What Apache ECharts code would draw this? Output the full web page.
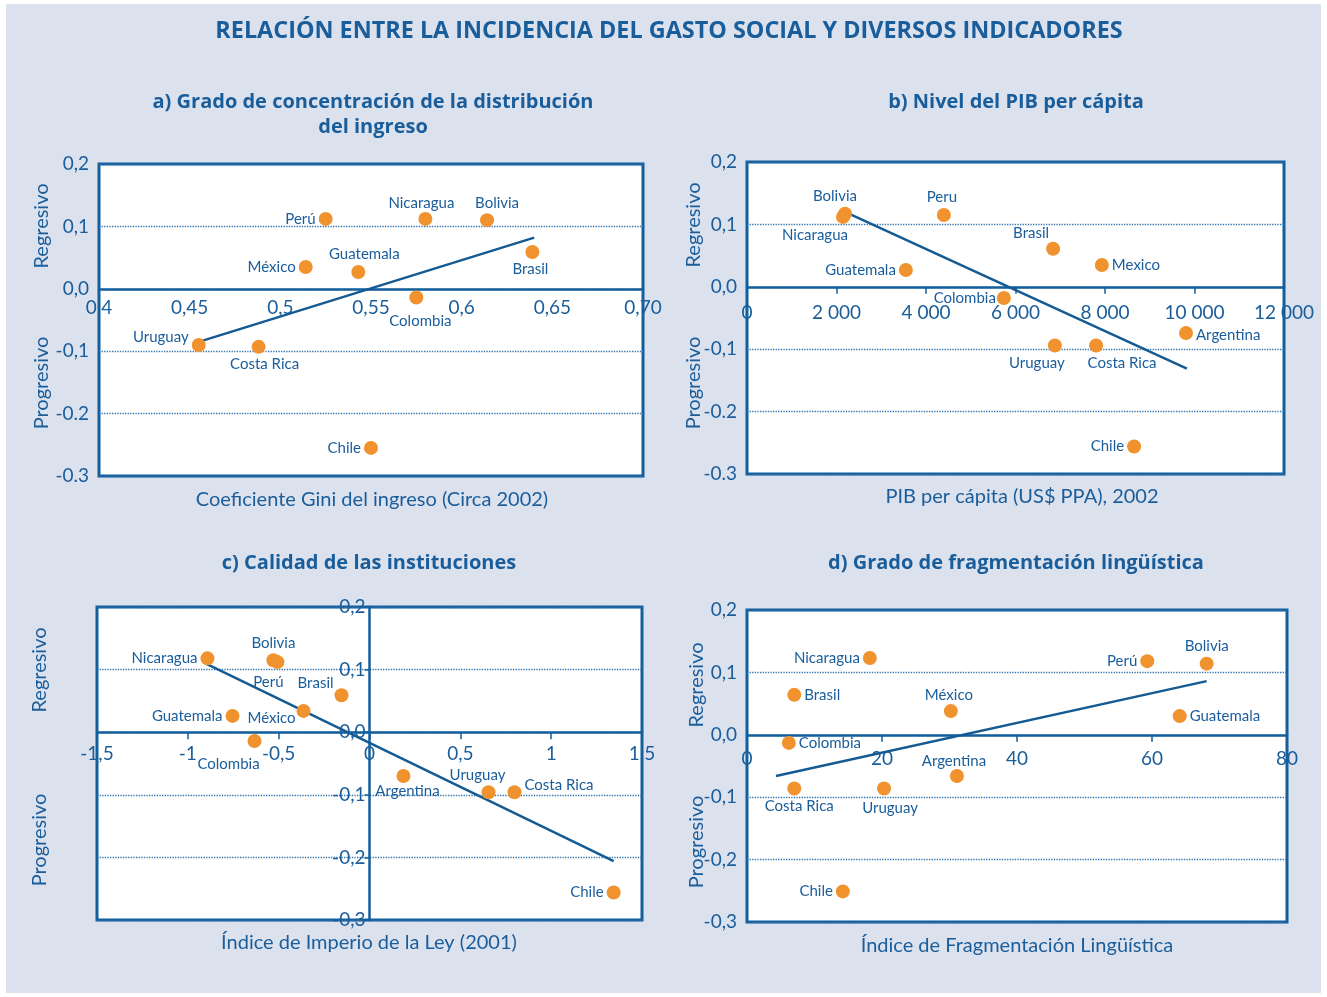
<!DOCTYPE html>
<html>
<head>
<meta charset="utf-8">
<script src="https://cdn.jsdelivr.net/npm/echarts@6/dist/echarts.min.js"></script>
<style>
  html, body { margin: 0; padding: 0; background: #ffffff; }
  #wrap { position: relative; width: 1327px; height: 997px; }
  #panel { position: absolute; left: 6px; top: 4px; width: 1315px; height: 989px; background: #dce1ee; }
  #chart { position: absolute; left: 0; top: 0; width: 1327px; height: 997px; }
</style>
</head>
<body>
<div id="wrap"><div id="panel"></div><div id="chart"></div></div>
<script>
// a) Gini coefficient vs. incidence of social spending
const countriesA = ['Perú', 'Nicaragua', 'Bolivia', 'Brasil', 'México', 'Guatemala', 'Colombia', 'Uruguay', 'Costa Rica', 'Chile'];
const giniA = [0.525, 0.580, 0.614, 0.639, 0.514, 0.543, 0.575, 0.455, 0.488, 0.550];
const incidA = [0.112, 0.112, 0.110, 0.059, 0.035, 0.027, -0.014, -0.090, -0.093, -0.255];
const trendAx = [0.455, 0.640];
const trendAy = [-0.085, 0.082];

// b) GDP per capita (PPP US$, 2002)
const countriesB = ['Bolivia', 'Nicaragua', 'Peru', 'Guatemala', 'Brasil', 'Mexico', 'Colombia', 'Uruguay', 'Costa Rica', 'Argentina', 'Chile'];
const pibB = [2190, 2145, 4400, 3550, 6840, 7930, 5740, 6880, 7800, 9810, 8650];
const incidB = [0.117, 0.112, 0.115, 0.027, 0.061, 0.035, -0.018, -0.094, -0.094, -0.074, -0.256];
const trendBx = [2190, 9830];
const trendBy = [0.120, -0.131];

// c) Rule of law index (2001)
const countriesC = ['Nicaragua', 'Bolivia', 'Perú', 'Brasil', 'México', 'Guatemala', 'Colombia', 'Argentina', 'Uruguay', 'Costa Rica', 'Chile'];
const leyC = [-0.892, -0.529, -0.507, -0.154, -0.363, -0.754, -0.633, 0.187, 0.655, 0.798, 1.344];
const incidC = [0.118, 0.115, 0.112, 0.059, 0.034, 0.026, -0.014, -0.070, -0.096, -0.096, -0.256];
const trendCx = [-0.903, 1.344];
const trendCy = [0.110, -0.206];

// d) Linguistic fragmentation index
const countriesD = ['Nicaragua', 'Perú', 'Bolivia', 'Brasil', 'México', 'Guatemala', 'Colombia', 'Argentina', 'Costa Rica', 'Uruguay', 'Chile'];
const fragD = [18.2, 59.3, 68.1, 7.0, 30.2, 64.1, 6.2, 31.1, 7.0, 20.3, 14.2];
const incidD = [0.123, 0.118, 0.114, 0.064, 0.038, 0.030, -0.013, -0.066, -0.086, -0.086, -0.251];
const trendDx = [4.3, 68.1];
const trendDy = [-0.066, 0.086];

// Tick labels, listed from the axis minimum upward
const yTicksAB = ['-0.3', '-0.2', '-0,1', '0,0', '0,1', '0,2'];
const yTicksCD = ['-0,3', '-0,2', '-0,1', '0,0', '0,1', '0,2'];
const xTicksA = ['0,4', '0,45', '0,5', '0,55', '0,6', '0,65', '0,70'];
const xTicksB = ['0', '2 000', '4 000', '6 000', '8 000', '10 000', '12 000'];
const xTicksC = ['-1,5', '-1', '-0,5', '0', '0,5', '1', '1,5'];
const xTicksD = ['0', '20', '40', '60', '80'];

// Label placement for each country, per panel: [position, dx, dy]
const placeA = [['left',0,0],['top',-4,2],['top',10,0],['bottom',-2,0],['left',0,0],['top',6,0],['bottom',4,6],['left',0,-8],['bottom',6,0],['left',0,0]];
const placeB = [['top',-10,0],['bottom',-28,1],['top',-2,0],['left',0,0],['top',-22,2],['right',0,0],['left',2,0],['bottom',-18,0],['bottom',26,0],['right',0,2],['left',0,0]];
const placeC = [['left',0,0],['top',0,0],['bottom',-9,3],['left',2,-12],['left',2,7],['left',0,0],['bottom',-26,6],['bottom',4,-2],['top',-11,0],['right',0,-7],['left',0,0]];
const placeD = [['left',0,0],['left',0,0],['top',0,0],['right',0,0],['top',-2,2],['right',0,0],['right',0,0],['top',-3,3],['bottom',5,0],['bottom',6,2],['left',0,0]];

const FONT = 'Lato, "Open Sans", "DejaVu Sans", sans-serif';
const TITLE_FONT = '"Open Sans", Lato, sans-serif';
const BLUE = '#1a5d9b';
const AXIS = '#135f9c';
const ORANGE = '#f0922d';

const grids = [
  { left: 99, top: 164, width: 544, height: 312 },
  { left: 747, top: 162, width: 537, height: 312 },
  { left: 97, top: 607, width: 545, height: 313 },
  { left: 747, top: 610, width: 540, height: 312 }
];
const Y_MIN = -0.3, Y_MAX = 0.2;

function tickFormatter(labels, min, step) {
  return function (v) {
    const i = Math.round((v - min) / step);
    return labels[i] !== undefined ? labels[i] : '';
  };
}

// The x axis is drawn along the zero line of the value axis: shift it up from the bottom edge
function xAxisFor(idx, min, max, step, labels, withTicks, gap) {
  const h = grids[idx].height;
  return {
    type: 'value', gridIndex: idx, min: min, max: max, interval: step,
    position: 'bottom',
    offset: -h * (0 - Y_MIN) / (Y_MAX - Y_MIN),
    axisLine: { onZero: false, lineStyle: { color: AXIS, width: 2.5 } },
    axisTick: { show: withTicks, inside: false, length: 7, lineStyle: { color: AXIS, width: 1.5 } },
    axisLabel: {
      color: BLUE, fontFamily: FONT, fontSize: 19, margin: gap,
      showMinLabel: true, showMaxLabel: true,
      formatter: tickFormatter(labels, min, step)
    },
    splitLine: { show: false }
  };
}

// Panel c puts its value axis on x = 0; the others keep it on the left edge
function yAxisFor(idx, labels, zeroX) {
  const centred = zeroX !== null;
  return {
    type: 'value', gridIndex: idx, min: Y_MIN, max: Y_MAX, interval: 0.1,
    position: 'left',
    offset: centred ? -grids[idx].width * zeroX : 0,
    axisLine: { show: centred, onZero: false, lineStyle: { color: AXIS, width: 2.5 } },
    axisTick: { show: centred, length: 5, lineStyle: { color: AXIS, width: 1.5 } },
    axisLabel: {
      color: BLUE, fontFamily: FONT, fontSize: 19, margin: centred ? 4 : 10,
      showMinLabel: true, showMaxLabel: true,
      formatter: tickFormatter(labels, Y_MIN, 0.1)
    },
    splitLine: { show: true, lineStyle: { color: '#2f72ad', type: 'dotted', width: 1.3 } }
  };
}

function scatterFor(idx, names, xs, ys, place) {
  return {
    type: 'scatter', xAxisIndex: idx, yAxisIndex: idx, z: 5,
    symbolSize: 14,
    itemStyle: { color: ORANGE, opacity: 1 },
    data: names.map(function (n, i) {
      const p = place[i];
      return {
        name: n, value: [xs[i], ys[i]],
        label: { position: p[0], offset: [p[1], p[2]] }
      };
    }),
    label: {
      show: true, formatter: '{b}', color: BLUE, fontFamily: FONT, fontSize: 15, distance: 3
    },
    emphasis: { disabled: true }
  };
}

function trendFor(idx, xs, ys) {
  return {
    type: 'line', xAxisIndex: idx, yAxisIndex: idx, z: 4,
    symbol: 'none', silent: true,
    lineStyle: { color: '#145a93', width: 2.5 },
    data: xs.map(function (x, i) { return [x, ys[i]]; })
  };
}

function txt(x, y, s, size, bold, rot) {
  return {
    type: 'text', x: x, y: y, rotation: rot || 0, z: 10,
    style: {
      text: s, fill: BLUE, fontFamily: bold ? TITLE_FONT : FONT, fontSize: size,
      fontWeight: bold ? 'bold' : 'normal',
      textAlign: 'center', textVerticalAlign: 'middle'
    }
  };
}

const R = Math.PI / 2;
const chart = echarts.init(document.getElementById('chart'), null, { renderer: 'canvas' });
chart.setOption({
  backgroundColor: 'transparent',
  animation: false,
  grid: grids.map(function (g) {
    return Object.assign({ show: true, backgroundColor: '#ffffff', borderColor: AXIS, borderWidth: 3, containLabel: false }, g);
  }),
  xAxis: [
    xAxisFor(0, 0.4, 0.7, 0.05, xTicksA, false, 10),
    xAxisFor(1, 0, 12000, 2000, xTicksB, true, 17),
    xAxisFor(2, -1.5, 1.5, 0.5, xTicksC, true, 12),
    xAxisFor(3, 0, 80, 20, xTicksD, true, 15)
  ],
  yAxis: [
    yAxisFor(0, yTicksAB, null),
    yAxisFor(1, yTicksAB, null),
    yAxisFor(2, yTicksCD, 0.5),
    yAxisFor(3, yTicksCD, null)
  ],
  series: [
    trendFor(0, trendAx, trendAy), scatterFor(0, countriesA, giniA, incidA, placeA),
    trendFor(1, trendBx, trendBy), scatterFor(1, countriesB, pibB, incidB, placeB),
    trendFor(2, trendCx, trendCy), scatterFor(2, countriesC, leyC, incidC, placeC),
    trendFor(3, trendDx, trendDy), scatterFor(3, countriesD, fragD, incidD, placeD)
  ],
  graphic: [
    txt(669, 31, 'RELACIÓN ENTRE LA INCIDENCIA DEL GASTO SOCIAL Y DIVERSOS INDICADORES', 23.4, true),
    txt(373, 102, 'a) Grado de concentración de la distribución', 20, true),
    txt(373, 127, 'del ingreso', 20, true),
    txt(1016, 102, 'b) Nivel del PIB per cápita', 20, true),
    txt(369, 563, 'c) Calidad de las instituciones', 20, true),
    txt(1016, 563, 'd) Grado de fragmentación lingüística', 20, true),
    txt(372, 500, 'Coeficiente Gini del ingreso (Circa 2002)', 20, false),
    txt(1022, 497, 'PIB per cápita (US$ PPA), 2002', 20, false),
    txt(369, 943, 'Índice de Imperio de la Ley (2001)', 20, false),
    txt(1017, 946, 'Índice de Fragmentación Lingüística', 20, false),
    txt(42, 226, 'Regresivo', 20, false, R),
    txt(42, 383, 'Progresivo', 20, false, R),
    txt(694, 225, 'Regresivo', 20, false, R),
    txt(694, 383, 'Progresivo', 20, false, R),
    txt(40, 670, 'Regresivo', 20, false, R),
    txt(40, 840, 'Progresivo', 20, false, R),
    txt(697, 685, 'Regresivo', 20, false, R),
    txt(697, 842, 'Progresivo', 20, false, R)
  ]
});
</script>
</body>
</html>
